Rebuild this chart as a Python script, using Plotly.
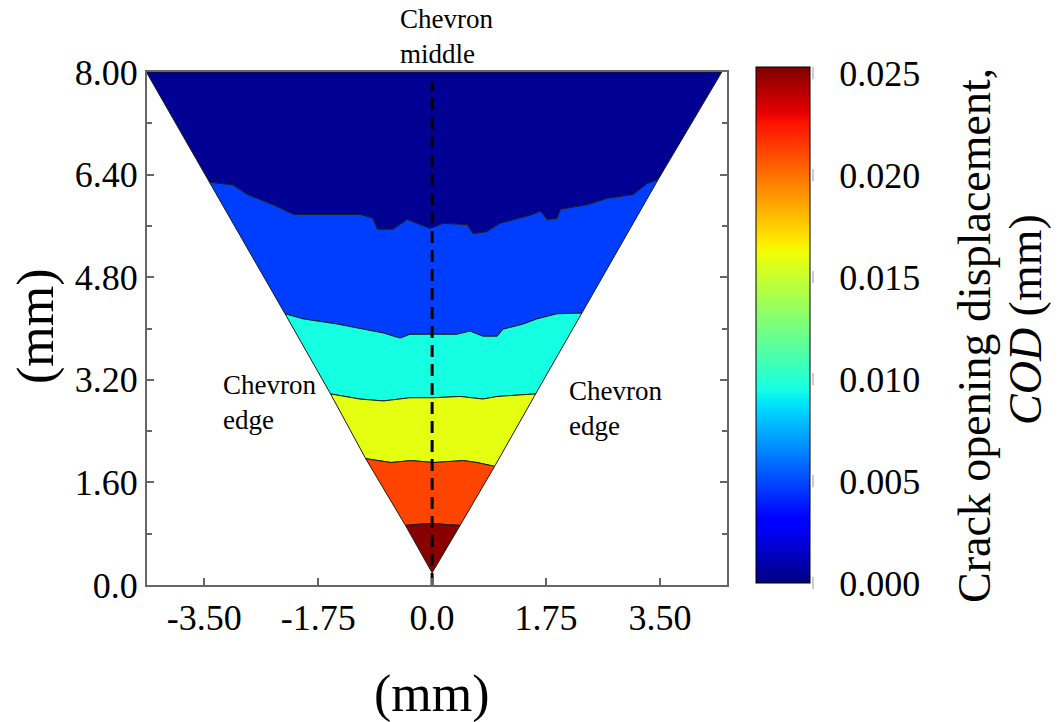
import numpy as np
import plotly.graph_objects as go
from plotly.colors import sample_colorscale

# ---------------- data ----------------
# chevron outline (mm)
v_top_left = (-4.39, 8.0)
v_top_right = (4.45, 8.0)
v_apex = (0.0, 0.19)

# band boundaries (left edge -> right edge), mm
b1_x = [-3.42, -3.06, -2.84, -2.44, -2.13, -1.11, -0.91, -0.84, -0.60, -0.38, -0.18, -0.03,
        0.17, 0.54, 0.63, 0.84, 1.04, 1.55, 1.66, 1.77, 1.92, 1.97, 2.38, 2.69, 3.09, 3.30, 3.47]
b1_y = [6.28, 6.24, 6.09, 5.93, 5.78, 5.78, 5.72, 5.55, 5.55, 5.70, 5.62, 5.56,
        5.64, 5.62, 5.48, 5.51, 5.64, 5.78, 5.83, 5.70, 5.72, 5.86, 5.93, 6.03, 6.09, 6.26, 6.32]

b2_x = [-2.26, -1.98, -1.46, -1.06, -0.75, -0.49, -0.34, 0.02, 0.38, 0.58, 0.78, 1.00,
        1.09, 1.40, 1.61, 1.92, 2.30]
b2_y = [4.23, 4.15, 4.07, 3.99, 3.93, 3.85, 3.91, 3.91, 3.91, 3.96, 3.88, 3.88,
        3.99, 4.07, 4.15, 4.23, 4.24]

b3_x = [-1.56, -1.11, -0.75, -0.34, 0.02, 0.43, 0.78, 1.00, 1.59]
b3_y = [2.98, 2.90, 2.87, 2.92, 2.92, 2.94, 2.90, 2.94, 2.98]

b4_x = [-1.02, -0.63, -0.32, 0.02, 0.48, 0.69, 0.96]
b4_y = [1.97, 1.91, 1.94, 1.91, 1.94, 1.91, 1.85]

b5_x = [-0.41, -0.20, 0.02, 0.25, 0.43]
b5_y = [0.93, 0.95, 0.96, 0.94, 0.93]

# COD level of each band, top band first (mm)
band_cod = [0.0004, 0.0047, 0.0095, 0.0159, 0.0212, 0.0251]

cod_min, cod_max = 0.0, 0.0253
cb_ticks = [0.000, 0.005, 0.010, 0.015, 0.020, 0.025]
cb_ticktext = ["0.000", "0.005", "0.010", "0.015", "0.020", "0.025"]

x_ticks = [-3.50, -1.75, 0.0, 1.75, 3.50]
x_ticktext = ["-3.50", "-1.75", "0.0", "1.75", "3.50"]
y_ticks = [0.0, 1.6, 3.2, 4.8, 6.4, 8.0]
y_ticktext = ["0.0", "1.60", "3.20", "4.80", "6.40", "8.00"]
y_minor = [0.8, 2.4, 4.0, 5.6, 7.2]

mid_x = [0.0, 0.0]
mid_y = [0.0, 7.85]

# ---------------- colour scale (matplotlib "jet") ----------------
def jet(t):
    r = np.interp(t, [0, 0.35, 0.66, 0.89, 1.0], [0, 0, 1, 1, 0.5])
    g = np.interp(t, [0, 0.125, 0.375, 0.64, 0.91, 1.0], [0, 0, 1, 1, 0, 0])
    b = np.interp(t, [0, 0.11, 0.34, 0.65, 1.0], [0.5, 1, 1, 0, 0])
    return "rgb(%d,%d,%d)" % (round(r * 255), round(g * 255), round(b * 255))

stops = [0, 0.11, 0.125, 0.34, 0.35, 0.375, 0.5, 0.64, 0.65, 0.66, 0.89, 0.91, 1.0]
jet_scale = [[s, jet(s)] for s in stops]

FONT = "Liberation Serif, Times New Roman, serif"

fig = go.Figure()

boundaries = [
    ([v_top_left[0], v_top_right[0]], [v_top_left[1], v_top_right[1]]),
    (b1_x, b1_y),
    (b2_x, b2_y),
    (b3_x, b3_y),
    (b4_x, b4_y),
    (b5_x, b5_y),
    ([v_apex[0]], [v_apex[1]]),
]

for k, cod in enumerate(band_cod):
    ux, uy = boundaries[k]
    lx, ly = boundaries[k + 1]
    px = list(ux) + list(lx)[::-1] + [ux[0]]
    py = list(uy) + list(ly)[::-1] + [uy[0]]
    color = sample_colorscale(jet_scale, [(cod - cod_min) / (cod_max - cod_min)])[0]
    fig.add_trace(go.Scatter(
        x=px, y=py, mode="lines", fill="toself", fillcolor=color,
        line=dict(color="#1a1a1a", width=1), hoverinfo="skip", showlegend=False))

# chevron middle dashed line
fig.add_trace(go.Scatter(
    x=mid_x, y=mid_y, mode="lines",
    line=dict(color="black", width=3, dash="12px,7px"),
    hoverinfo="skip", showlegend=False, cliponaxis=False))

# colour bar carrier
PLOT_L, PLOT_R, PLOT_T, PLOT_B = 147, 727, 72, 585
PW, PH = PLOT_R - PLOT_L, PLOT_B - PLOT_T
cb_left, cb_right, cb_top, cb_bottom = 756, 810, 67, 583
cb_y0 = (PLOT_B - cb_bottom) / PH
cb_len = (cb_bottom - cb_top) / PH

fig.add_trace(go.Scatter(
    x=[None], y=[None], mode="markers", showlegend=False, hoverinfo="skip",
    marker=dict(color=[cod_min], colorscale=jet_scale, cmin=cod_min, cmax=cod_max,
                showscale=True,
                colorbar=dict(
                    x=(cb_left - PLOT_L) / PW, xanchor="left", xpad=0,
                    y=cb_y0 + cb_len / 2, yanchor="middle", ypad=0,
                    len=cb_len, lenmode="fraction", thickness=cb_right - cb_left,
                    outlinecolor="black", outlinewidth=1,
                    tickvals=cb_ticks, ticktext=cb_ticktext,
                    ticks="outside", ticklen=22, tickcolor="rgba(0,0,0,0)",
                    tickfont=dict(family=FONT, size=36, color="black"),
                ))))

shapes = []
for v in cb_ticks[1:-1]:
    yp = cb_y0 + (v - cod_min) / (cod_max - cod_min) * cb_len
    for xa, xb in [(cb_left, cb_left + 8), (cb_right - 8, cb_right)]:
        shapes.append(dict(type="line", xref="paper", yref="paper",
                           x0=(xa - PLOT_L) / PW, x1=(xb - PLOT_L) / PW, y0=yp, y1=yp,
                           line=dict(color="black", width=1.5)))
# small grey marks just outside the colour bar
for v in cb_ticks:
    yp = cb_y0 + (v - cod_min) / (cod_max - cod_min) * cb_len
    shapes.append(dict(type="line", xref="paper", yref="paper",
                       x0=(cb_right + 3 - PLOT_L) / PW, x1=(cb_right + 3 - PLOT_L) / PW,
                       y0=yp - 0.012, y1=yp + 0.012,
                       line=dict(color="#bbbbbb", width=1.5)))

def px2paper(x, y):
    return (x - PLOT_L) / PW, (PLOT_B - y) / PH

annotations = []
ax, ay = px2paper(398, 36)
annotations.append(dict(text="Chevron<br>middle", x=ax, y=ay, xref="paper", yref="paper",
                        xanchor="left", yanchor="middle", align="left", showarrow=False,
                        font=dict(family=FONT, size=27, color="black")))
ax, ay = px2paper(221, 402)
annotations.append(dict(text="Chevron<br>edge", x=ax, y=ay, xref="paper", yref="paper",
                        xanchor="left", yanchor="middle", align="left", showarrow=False,
                        font=dict(family=FONT, size=27, color="black")))
ax, ay = px2paper(567, 408)
annotations.append(dict(text="Chevron<br>edge", x=ax, y=ay, xref="paper", yref="paper",
                        xanchor="left", yanchor="middle", align="left", showarrow=False,
                        font=dict(family=FONT, size=27, color="black")))
# axis titles
ax, ay = px2paper(432, 694)
annotations.append(dict(text="(mm)", x=ax, y=ay, xref="paper", yref="paper",
                        xanchor="center", yanchor="middle", showarrow=False,
                        font=dict(family=FONT, size=52, color="black")))
ax, ay = px2paper(36, 326)
annotations.append(dict(text="(mm)", x=ax, y=ay, xref="paper", yref="paper", textangle=-90,
                        xanchor="center", yanchor="middle", showarrow=False,
                        font=dict(family=FONT, size=52, color="black")))
# colour bar title
ax, ay = px2paper(974, 336)
annotations.append(dict(text="Crack opening displacement,", x=ax, y=ay, xref="paper", yref="paper",
                        textangle=-90, xanchor="center", yanchor="middle", showarrow=False,
                        font=dict(family=FONT, size=46, color="black")))
ax, ay = px2paper(1025, 320)
annotations.append(dict(text="<i>COD</i> (mm)", x=ax, y=ay, xref="paper", yref="paper",
                        textangle=-90, xanchor="center", yanchor="middle", showarrow=False,
                        font=dict(family=FONT, size=46, color="black")))

fig.update_layout(
    width=1059, height=722,
    margin=dict(l=PLOT_L, r=1059 - PLOT_R, t=PLOT_T, b=722 - PLOT_B),
    paper_bgcolor="white", plot_bgcolor="white",
    shapes=shapes, annotations=annotations,
    xaxis=dict(range=[-4.38, 4.53], showgrid=False, zeroline=False,
               tickmode="array", tickvals=x_ticks, ticktext=x_ticktext,
               ticks="inside", ticklen=7, tickwidth=1.5, tickcolor="#666",
               showline=True, linecolor="#666", linewidth=2, mirror=True,
               tickfont=dict(family=FONT, size=36, color="black")),
    yaxis=dict(range=[0, 8], showgrid=False, zeroline=False,
               tickmode="array", tickvals=y_ticks, ticktext=y_ticktext,
               ticks="inside", ticklen=7, tickwidth=1.5, tickcolor="#666",
               minor=dict(tickvals=y_minor, ticks="inside", ticklen=5, tickcolor="#666"),
               showline=True, linecolor="#666", linewidth=2, mirror="allticks",
               tickfont=dict(family=FONT, size=36, color="black")),
    hovermode=False,
)

fig.write_html("out.html")
